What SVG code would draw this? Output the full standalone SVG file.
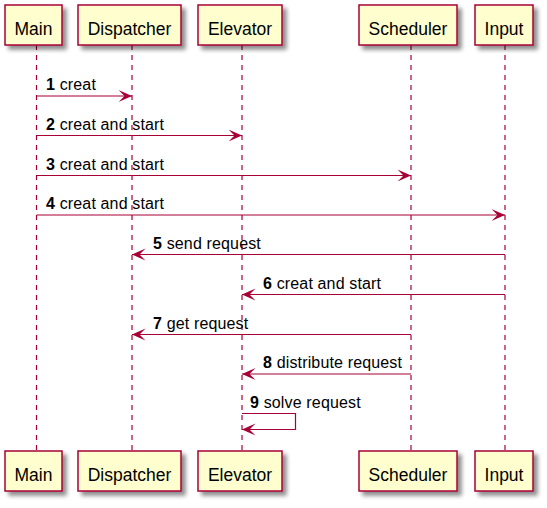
<svg xmlns="http://www.w3.org/2000/svg" width="547" height="508" viewBox="0 0 547 508">
<defs>
<filter id="sh" x="-20%" y="-20%" width="150%" height="160%">
<feGaussianBlur in="SourceAlpha" stdDeviation="2"/>
<feOffset dx="4" dy="4" result="b"/>
<feComponentTransfer><feFuncA type="linear" slope="0.45"/></feComponentTransfer>
<feMerge><feMergeNode/><feMergeNode in="SourceGraphic"/></feMerge>
</filter>
<marker id="ah" markerUnits="userSpaceOnUse" viewBox="0 0 14 14" refX="13.5" refY="7" markerWidth="14" markerHeight="14" orient="auto">
<polygon points="0,1 13.5,7 0,13 6,7" fill="#A80036"/>
</marker>
</defs>
<style>
.box{fill:#FEFECE;stroke:#A80036;stroke-width:1.5;filter:url(#sh)}
.pl{font-family:"Liberation Sans",Arial,sans-serif;font-size:17.5px;fill:#000;text-anchor:middle}
.life{stroke:#A80036;stroke-width:1.2;stroke-dasharray:5,5;fill:none}
.msg{stroke:#A80036;stroke-width:1.2;fill:none;marker-end:url(#ah)}
.mt{font-family:"Liberation Sans",Arial,sans-serif;font-size:16px;letter-spacing:0.15px;fill:#000}
.n{font-weight:bold}
</style>
<g id="lifelines">
<line class="life" x1="36.5" y1="45" x2="36.5" y2="451"/>
<line class="life" x1="132" y1="45" x2="132" y2="451"/>
<line class="life" x1="242" y1="45" x2="242" y2="451"/>
<line class="life" x1="411" y1="45" x2="411" y2="451"/>
<line class="life" x1="505" y1="45" x2="505" y2="451"/>
</g>
<g id="Main">
<rect class="box" x="5" y="5" width="57" height="40"/>
<text class="pl" x="33.5" y="35">Main</text>
<rect class="box" x="5" y="451" width="57" height="40"/>
<text class="pl" x="33.5" y="481">Main</text>
</g>
<g id="Dispatcher">
<rect class="box" x="78" y="5" width="103" height="40"/>
<text class="pl" x="129.5" y="35">Dispatcher</text>
<rect class="box" x="78" y="451" width="103" height="40"/>
<text class="pl" x="129.5" y="481">Dispatcher</text>
</g>
<g id="Elevator">
<rect class="box" x="198" y="5" width="84" height="40"/>
<text class="pl" x="240" y="35">Elevator</text>
<rect class="box" x="198" y="451" width="84" height="40"/>
<text class="pl" x="240" y="481">Elevator</text>
</g>
<g id="Scheduler">
<rect class="box" x="359" y="5" width="98" height="40"/>
<text class="pl" x="408" y="35">Scheduler</text>
<rect class="box" x="359" y="451" width="98" height="40"/>
<text class="pl" x="408" y="481">Scheduler</text>
</g>
<g id="Input">
<rect class="box" x="475" y="5" width="58" height="40"/>
<text class="pl" x="504" y="35">Input</text>
<rect class="box" x="475" y="451" width="58" height="40"/>
<text class="pl" x="504" y="481">Input</text>
</g>
<g id="connectors">
<line class="msg" x1="36.5" y1="96" x2="132" y2="96"/>
<line class="msg" x1="36.5" y1="135.5" x2="242" y2="135.5"/>
<line class="msg" x1="36.5" y1="175.5" x2="411" y2="175.5"/>
<line class="msg" x1="36.5" y1="215" x2="505" y2="215"/>
<line class="msg" x1="505" y1="254.5" x2="132" y2="254.5"/>
<line class="msg" x1="505" y1="294.5" x2="242" y2="294.5"/>
<line class="msg" x1="411" y1="334.5" x2="132" y2="334.5"/>
<line class="msg" x1="411" y1="374" x2="242" y2="374"/>
<path class="msg" d="M242,413.5 H295.5 V429.5 H242"/>
</g>
<g id="labels">
<text class="mt" x="46" y="90"><tspan class="n">1</tspan> creat</text>
<text class="mt" x="46" y="129.5"><tspan class="n">2</tspan> creat and start</text>
<text class="mt" x="46" y="169.5"><tspan class="n">3</tspan> creat and start</text>
<text class="mt" x="46" y="209"><tspan class="n">4</tspan> creat and start</text>
<text class="mt" x="153" y="248.5"><tspan class="n">5</tspan> send request</text>
<text class="mt" x="263" y="288.5"><tspan class="n">6</tspan> creat and start</text>
<text class="mt" x="153" y="328.5"><tspan class="n">7</tspan> get request</text>
<text class="mt" x="263" y="368"><tspan class="n">8</tspan> distribute request</text>
<text class="mt" x="250" y="407.5"><tspan class="n">9</tspan> solve request</text>
</g>
</svg>
